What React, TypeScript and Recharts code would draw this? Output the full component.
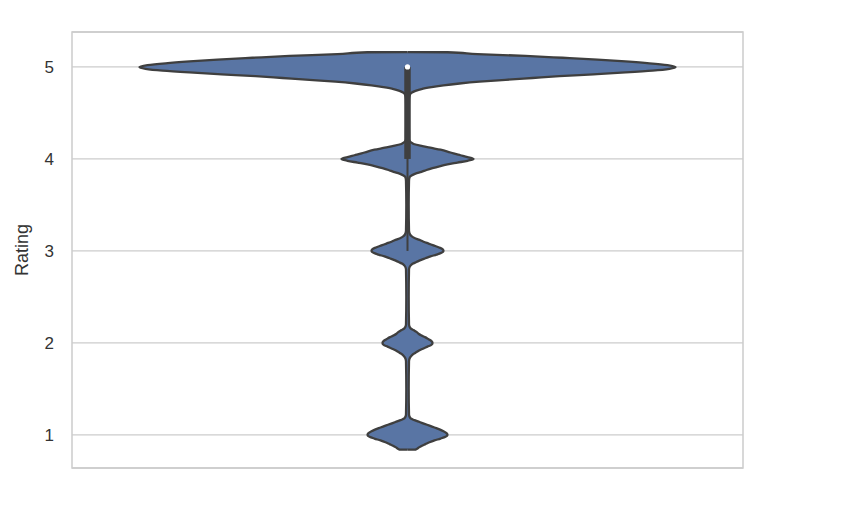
import {
  ComposedChart,
  Area,
  XAxis,
  YAxis,
  CartesianGrid,
  ReferenceLine,
  ReferenceDot,
  ReferenceArea,
} from "recharts";

// rating levels (top to bottom) and the violin half-width
const ratingLevels = [
  5.161, 5.16, 5.14, 5.12, 5.1, 5.08, 5.06, 5.04, 5.02, 5.0, 4.98, 4.96, 4.94, 4.92, 4.9, 4.88,
  4.86, 4.84, 4.82, 4.8, 4.78, 4.76, 4.74, 4.72, 4.7, 4.65, 4.45, 4.25,
  4.22, 4.19, 4.17, 4.16, 4.14, 4.12, 4.1, 4.08, 4.06, 4.04, 4.02, 4.0, 3.98, 3.96, 3.94, 3.92,
  3.9, 3.88, 3.86, 3.84, 3.82, 3.8, 3.76, 3.5,
  3.22, 3.18, 3.16, 3.14, 3.12, 3.1, 3.08, 3.06, 3.04, 3.02, 3.0, 2.98, 2.96, 2.94, 2.92, 2.9,
  2.88, 2.86, 2.84, 2.8, 2.5,
  2.2, 2.16, 2.14, 2.12, 2.1, 2.08, 2.06, 2.04, 2.02, 2.0, 1.98, 1.96, 1.94, 1.92, 1.9, 1.88,
  1.86, 1.84, 1.8, 1.5,
  1.22, 1.18, 1.16, 1.14, 1.12, 1.1, 1.08, 1.06, 1.04, 1.02, 1.0, 0.98, 0.96, 0.94, 0.92, 0.9,
  0.88, 0.86, 0.84, 0.839,
];

const halfWidth = [
  0, 40, 70, 118, 155, 190, 218, 242, 260, 268, 262, 245, 218, 186, 152, 125,
  98, 72, 52, 36, 24, 14, 8, 4, 2.5, 1.5, 1.2, 1.5,
  1.5, 2.5, 5, 7, 15, 24, 33, 40, 46, 53, 60, 66, 60, 50, 40, 32,
  25, 19, 14, 8, 4, 2, 1.5, 1.2,
  1.5, 2.5, 4, 7, 12, 16, 21, 26, 31, 35, 36, 34, 29, 23, 18, 13,
  9, 5, 3, 1.5, 1.2,
  1.5, 3, 6, 9, 11, 14, 18, 21, 24, 25, 24, 20, 16, 12, 9, 6,
  4, 2.5, 1.5, 1.2,
  1.5, 3, 7, 12, 17, 22, 27, 32, 36, 39, 40, 38, 33, 27, 22, 18,
  14, 11, 8, 0,
];

const ratingTicks = [1, 2, 3, 4, 5];

// inner box
const boxQ1 = 4;
const boxQ3 = 5;
const whiskerLow = 3;
const whiskerHigh = 5;
const median = 5;

const yDomain: [number, number] = [0.64, 5.38];
const xDomain: [number, number] = [-335.5, 335.5];

const violinData = ratingLevels.map((r, i) => ({
  rating: r,
  range: [-halfWidth[i], halfWidth[i]],
}));

const font = "'Liberation Sans', Arial, sans-serif";

export default function App() {
  return (
    <div style={{ fontFamily: font }}>
      <ComposedChart
        width={846}
        height={510}
        layout="vertical"
        data={violinData}
        margin={{ top: 24, right: 111, bottom: 50, left: 8 }}
      >
        <CartesianGrid horizontal vertical={false} stroke="#cccccc" strokeWidth={1.3} />
        <ReferenceArea
          x1={xDomain[0]}
          x2={xDomain[1]}
          y1={yDomain[0]}
          y2={yDomain[1]}
          fill="none"
          stroke="#cccccc"
          strokeWidth={1.5}
        />
        <XAxis type="number" domain={xDomain} hide allowDataOverflow />
        <YAxis
          type="number"
          dataKey="rating"
          domain={yDomain}
          ticks={ratingTicks}
          reversed
          allowDataOverflow
          width={56}
          tickLine={false}
          axisLine={false}
          tickMargin={12}
          tick={{ fontSize: 17, fill: "#333333", fontFamily: font }}
          label={{
            value: "Rating",
            angle: -90,
            position: "insideLeft",
            offset: 6,
            style: { textAnchor: "middle", fontSize: 18, fill: "#333333", fontFamily: font },
          }}
        />
        <Area
          dataKey="range"
          type="monotone"
          fill="#5975a4"
          fillOpacity={1}
          stroke="#3f3f3f"
          strokeWidth={2.3}
          isAnimationActive={false}
          activeDot={false}
          dot={false}
        />
        <ReferenceLine
          segment={[
            { x: 0, y: whiskerLow },
            { x: 0, y: whiskerHigh },
          ]}
          stroke="#3f3f3f"
          strokeWidth={2}
        />
        <ReferenceLine
          segment={[
            { x: 0, y: boxQ1 },
            { x: 0, y: boxQ3 },
          ]}
          stroke="#3f3f3f"
          strokeWidth={6.5}
        />
        <ReferenceDot x={0} y={median} r={2.6} fill="#ffffff" stroke="none" />
      </ComposedChart>
    </div>
  );
}
